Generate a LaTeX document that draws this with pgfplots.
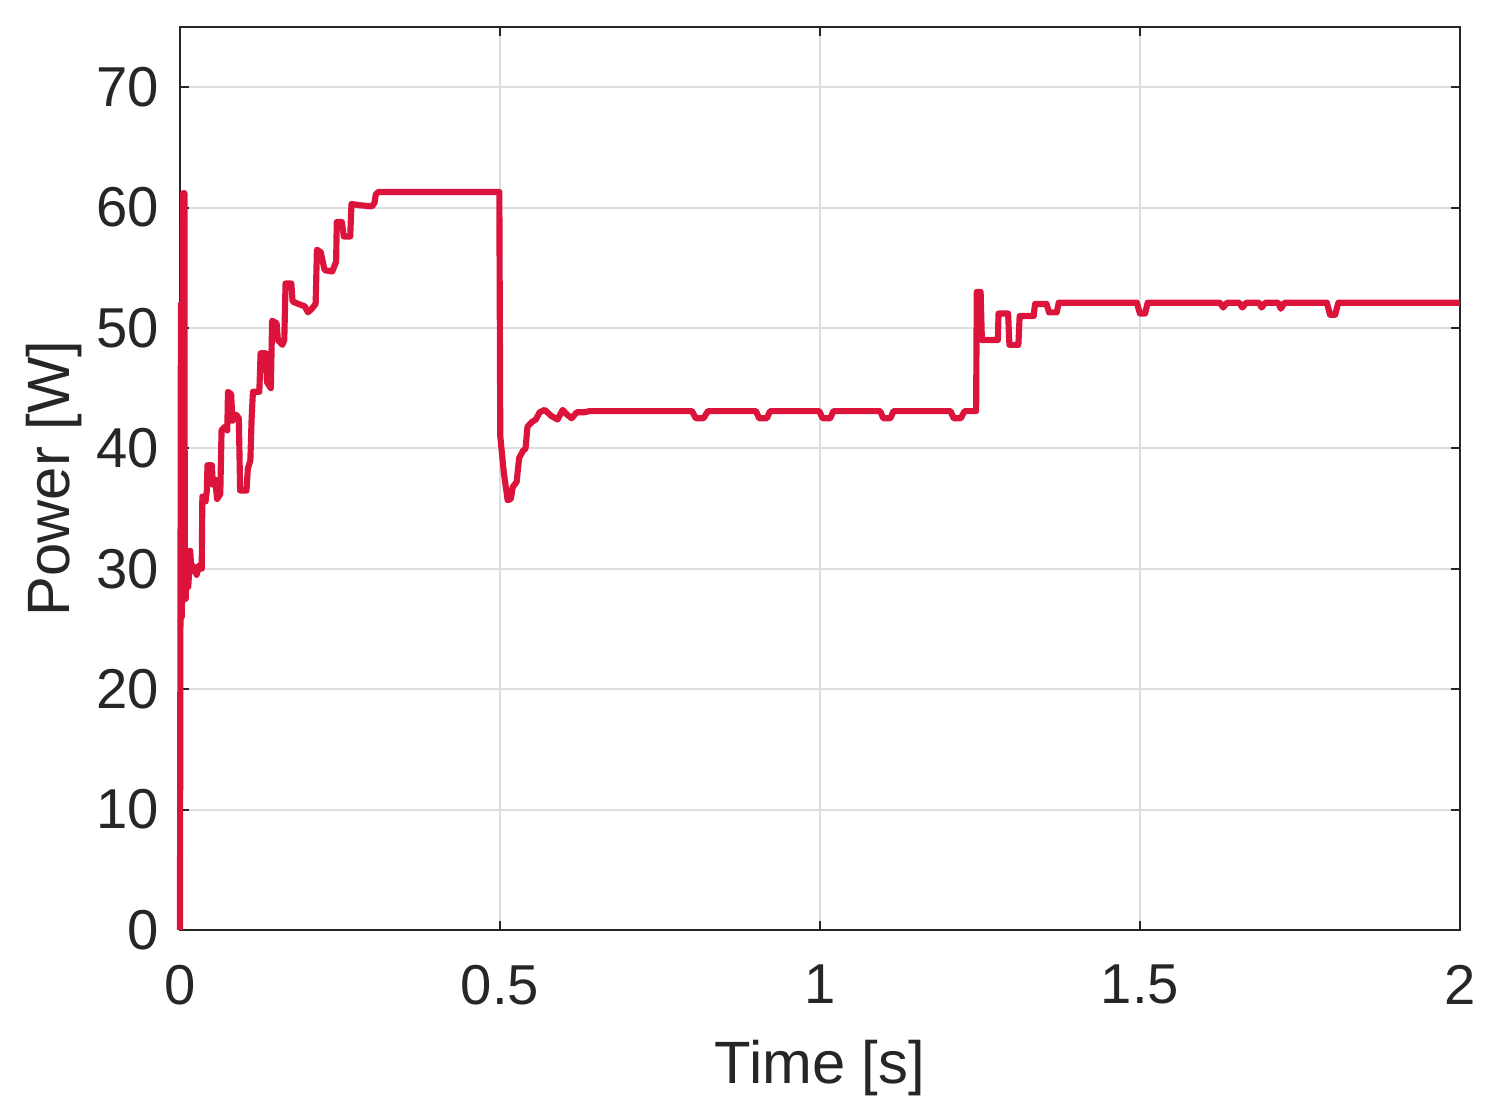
\documentclass[border=0pt]{standalone}
\usepackage{fontspec}
\setmainfont{Liberation Sans}
\usepackage{pgfplots}
\usepackage{pgfplotstable}
\pgfplotsset{compat=1.18}
\definecolor{linered}{RGB}{220,20,60}
\definecolor{axgray}{RGB}{38,38,38}
\definecolor{gridgray}{RGB}{222,222,222}
\pgfplotstableread{
t y
0 0
0.0015 52
0.003 26
0.004 40
0.005 61.2
0.007 61.2
0.0075 32
0.009 27.5
0.011 31
0.013 28.5
0.016 31.5
0.018 29.8
0.022 30.2
0.026 29.5
0.030 30.3
0.034 30
0.035 36
0.040 35.6
0.042 36.5
0.043 38.6
0.050 38.6
0.051 37
0.055 37.4
0.058 35.8
0.063 36.2
0.065 41.5
0.070 41.8
0.074 41.5
0.075 44.7
0.080 44.5
0.082 42.3
0.088 42.8
0.092 42.5
0.094 36.5
0.104 36.5
0.106 38.3
0.110 39
0.112 42.5
0.114 44.7
0.124 44.7
0.126 47.9
0.134 47.9
0.136 45.5
0.142 45
0.144 50.6
0.151 50.4
0.153 49
0.160 48.6
0.163 49
0.165 53.7
0.174 53.7
0.176 52.2
0.185 52
0.195 51.8
0.200 51.3
0.206 51.6
0.212 52
0.214 56.5
0.220 56.3
0.226 54.8
0.238 54.7
0.244 55.5
0.245 58.8
0.253 58.8
0.256 57.6
0.266 57.6
0.268 60.3
0.280 60.2
0.300 60.1
0.304 60.4
0.306 61.1
0.310 61.3
0.400 61.3
0.499 61.3
0.5005 41
0.506 38
0.512 35.7
0.517 35.8
0.520 36.8
0.526 37.2
0.530 39.2
0.536 39.8
0.540 40
0.543 41.8
0.550 42.2
0.556 42.4
0.562 43
0.570 43.2
0.580 42.7
0.590 42.4
0.598 43.2
0.605 42.8
0.612 42.5
0.620 43
0.632 43
0.640 43.1
0.800 43.1
0.806 42.5
0.818 42.5
0.825 43.1
0.900 43.1
0.905 42.5
0.917 42.5
0.922 43.1
0.999 43.1
1.004 42.5
1.016 42.5
1.021 43.1
1.094 43.1
1.099 42.5
1.110 42.5
1.115 43.1
1.204 43.1
1.209 42.5
1.220 42.5
1.226 43.1
1.244 43.1
1.245 53
1.251 53
1.253 49
1.262 49
1.278 49
1.279 51.2
1.294 51.2
1.296 48.6
1.310 48.6
1.312 51
1.334 51
1.336 52
1.354 52
1.358 51.3
1.370 51.3
1.373 52.1
1.495 52.1
1.500 51.2
1.508 51.2
1.512 52.1
1.625 52.1
1.630 51.7
1.636 52.1
1.655 52.1
1.660 51.7
1.666 52.1
1.686 52.1
1.690 51.7
1.696 52.1
1.716 52.1
1.720 51.6
1.726 52.1
1.792 52.1
1.797 51.1
1.805 51.1
1.810 52.1
2.000 52.1
}\powerdata
\begin{document}
\begin{tikzpicture}
\begin{axis}[
  scale only axis, width=12.8cm, height=9.03cm,
  xmin=0, xmax=2, ymin=0, ymax=75,
  xtick={0,0.5,1,1.5,2}, xticklabels={0,0.5,1,1.5,2},
  ytick={0,10,20,30,40,50,60,70},
  yticklabels={0,10,20,30,40,50,60,70},
  grid=major, grid style={gridgray, line width=0.6pt},
  axis line style={axgray, line width=0.6pt},
  tick style={axgray, line width=0.6pt},
  tick align=inside, major tick length=0.09cm,
  ticklabel style={font=\fontsize{16}{19}\selectfont, text=axgray},
  xticklabel style={yshift=-6.5pt},
  yticklabel style={xshift=-2.5pt},
  /pgf/number format/assume math mode=true,
  label style={font=\fontsize{17}{20}\selectfont, text=axgray},
  xlabel={Time [s]}, ylabel={Power [W]},
  xlabel style={at={(axis description cs:0.5,-0.17)}, anchor=base},
  ylabel style={at={(axis description cs:-0.086,0.5)}, anchor=base},
  clip=false,
]
\addplot[linered, line width=1.75pt, line join=round] table[x=t, y=y] {\powerdata};
\path (axis description cs:-0.1406,-0.2071) rectangle (axis description cs:1.0258,1.0299);
\end{axis}
\end{tikzpicture}
\end{document}
